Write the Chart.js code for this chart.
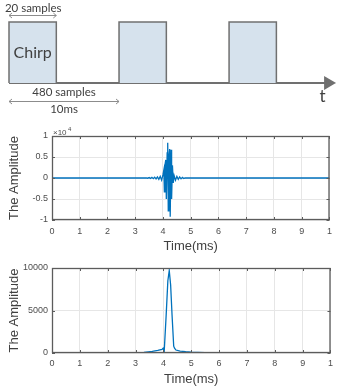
<!DOCTYPE html>
<html>
<head>
<meta charset="utf-8">
<script src="https://cdn.jsdelivr.net/npm/chart.js@4"></script>
<style>
  body { margin: 0; background: #fff; }
  #wrap { position: relative; width: 338px; height: 391px; }
  canvas { position: absolute; left: 0; }
</style>
</head>
<body>
<div id="wrap">
  <canvas id="diagram" width="338" height="120" style="top:0"></canvas>
  <canvas id="signalChart" width="338" height="135" style="top:120px"></canvas>
  <canvas id="outputChart" width="338" height="136" style="top:255px"></canvas>
</div>
<script>
// ---- schematic (diagram units: 1 = 1ms along t, 1 = pulse height) ----
const pulseStarts = [0, 10, 20];
const pulseWidth = 4.3;
const axisEnd = 29;
const diagramLabels = [
  { text: "Chirp", x: 2.15, y: 0.5, size: 16 },
  { text: "20 samples", x: 2.2, y: 1.23, size: 11.5 },
  { text: "480 samples", x: 5, y: -0.16, size: 11.5 },
  { text: "10ms", x: 5, y: -0.43, size: 11.5 },
  { text: "t", x: 28.5, y: -0.22, size: 17 }
];
const spanArrows = [
  { from: 0, to: 4.3, y: 1.11 },
  { from: 0, to: 10, y: -0.3 }
];

// ---- received chirp (amplitude in units of 10^4) ----
const sigTime = [0, 3.3, 3.4, 3.45, 3.5, 3.55, 3.6, 3.65, 3.7, 3.75, 3.8, 3.85, 3.9, 3.95, 4.0,
  4.03, 4.05, 4.07, 4.1, 4.12, 4.15, 4.17, 4.19, 4.21, 4.24, 4.26, 4.29, 4.31, 4.34, 4.37,
  4.4, 4.45, 4.5, 4.55, 4.6, 4.65, 4.7, 4.75, 4.8, 4.9, 10];
const sigAmp = [0, 0, 0.005, -0.005, 0.01, -0.01, 0.015, -0.015, 0.02, -0.02, 0.025, -0.03, 0.04, -0.05, 0.08,
  0.19, -0.33, 0.3, 0.43, -0.5, 0.6, 0.84, -0.78, 0.5, 0.69, -0.92, 0.67, -0.5, 0.3, -0.12,
  0.06, -0.05, 0.04, -0.03, 0.025, -0.02, 0.015, -0.01, 0.005, 0, 0];

// ---- matched filter output ----
const outTime = [0, 2.5, 3.0, 3.3, 3.6, 3.8, 3.95, 3.99, 4.03, 4.1, 4.16, 4.21, 4.26, 4.31, 4.37,
  4.4, 4.45, 4.6, 4.8, 5.0, 5.5, 6, 10];
const outAmp = [0, 10, 40, 80, 180, 300, 420, 560, 250, 4500, 8500, 9700, 8000, 4500, 800,
  560, 350, 220, 150, 100, 40, 10, 0];

const xTickLabels = ["0", "1", "2", "3", "4", "5", "6", "7", "8", "9", "1"];
const yTicksSignal = [-1, -0.5, 0, 0.5, 1];
const yTicksOutput = [0, 5000, 10000];

const lineBlue = "#0072BD";
const tickFont = { family: "Liberation Sans, Arial, sans-serif", size: 9 };
const titleFont = { family: "Liberation Sans, Arial, sans-serif", size: 13 };

// diagram
const diagramText = {
  id: "diagramText",
  afterDatasetsDraw(chart) {
    const { ctx, scales } = chart;
    ctx.save();
    ctx.strokeStyle = "#8c8c8c";
    ctx.lineWidth = 1;
    spanArrows.forEach((a) => {
      const x1 = scales.x.getPixelForValue(a.from);
      const x2 = scales.x.getPixelForValue(a.to);
      const y = Math.round(scales.y.getPixelForValue(a.y)) + 0.5;
      ctx.beginPath();
      ctx.moveTo(x1, y); ctx.lineTo(x2, y);
      ctx.moveTo(x1 + 3, y - 2.5); ctx.lineTo(x1, y); ctx.lineTo(x1 + 3, y + 2.5);
      ctx.moveTo(x2 - 3, y - 2.5); ctx.lineTo(x2, y); ctx.lineTo(x2 - 3, y + 2.5);
      ctx.stroke();
    });
    ctx.fillStyle = "#404040";
    ctx.textAlign = "center";
    ctx.textBaseline = "middle";
    diagramLabels.forEach((l) => {
      ctx.font = l.size + "px Lato, 'Open Sans', sans-serif";
      ctx.fillText(l.text, scales.x.getPixelForValue(l.x), scales.y.getPixelForValue(l.y));
    });
    ctx.restore();
  }
};

const pulseSets = pulseStarts.map((s) => ({
  data: [{ x: s, y: 0 }, { x: s, y: 1 }, { x: s + pulseWidth, y: 1 }, { x: s + pulseWidth, y: 0 }],
  borderColor: "#707070",
  backgroundColor: "#d6e2ed",
  borderWidth: 1.5,
  fill: "origin",
  pointRadius: 0
}));

new Chart(document.getElementById("diagram"), {
  type: "line",
  data: {
    datasets: [
      ...pulseSets,
      {
        data: [{ x: 0, y: 0 }, { x: axisEnd, y: 0 }],
        borderColor: "#707070",
        backgroundColor: "#707070",
        borderWidth: 2,
        pointStyle: "triangle",
        rotation: 90,
        pointRadius: [0, 6],
        fill: false
      }
    ]
  },
  options: {
    responsive: false,
    animation: false,
    layout: { padding: 0, autoPadding: false },
    plugins: { legend: { display: false }, tooltip: { enabled: false } },
    scales: {
      x: { type: "linear", display: false, min: -0.818, max: 29.9 },
      y: { display: false, min: -0.607, max: 1.36 }
    }
  },
  plugins: [diagramText]
});

// MATLAB-like box with inward ticks
const axesBox = {
  id: "axesBox",
  afterDraw(chart, args, opts) {
    const { ctx, chartArea: a, scales } = chart;
    ctx.save();
    ctx.strokeStyle = "#5c5c5c";
    ctx.lineWidth = 1.3;
    ctx.strokeRect(a.left + 0.5, a.top + 0.5, a.right - a.left - 1, a.bottom - a.top - 1);
    ctx.lineWidth = 1;
    ctx.beginPath();
    scales.x.ticks.forEach((t) => {
      const x = Math.round(scales.x.getPixelForValue(t.value)) + 0.5;
      ctx.moveTo(x, a.top); ctx.lineTo(x, a.top + 3);
      ctx.moveTo(x, a.bottom); ctx.lineTo(x, a.bottom - 3);
    });
    scales.y.ticks.forEach((t) => {
      const y = Math.round(scales.y.getPixelForValue(t.value)) + 0.5;
      ctx.moveTo(a.left, y); ctx.lineTo(a.left + 3, y);
      ctx.moveTo(a.right, y); ctx.lineTo(a.right - 3, y);
    });
    ctx.stroke();
    if (opts.exponent) {
      ctx.fillStyle = "#4d4d4d";
      ctx.font = "8px Liberation Sans, Arial, sans-serif";
      ctx.textBaseline = "alphabetic";
      ctx.fillText("\u00d710", a.left + 1, a.top - 1);
      ctx.font = "6px Liberation Sans, Arial, sans-serif";
      ctx.fillText("4", a.left + 16, a.top - 5);
    }
    ctx.restore();
  }
};

function plotOptions(yTicks, xHeight, top, tickPad, titlePad, exponent) {
  return {
    responsive: false,
    animation: false,
    layout: { padding: { top: top, right: 3, left: 0, bottom: 0 } },
    plugins: { legend: { display: false }, tooltip: { enabled: false }, axesBox: { exponent: exponent } },
    scales: {
      x: {
        type: "linear",
        min: 0, max: 10,
        afterFit: (s) => { s.height = xHeight; },
        afterBuildTicks: (s) => { s.ticks = xTickLabels.map((_, i) => ({ value: i })); },
        ticks: {
          padding: tickPad,
          color: "#4d4d4d",
          font: tickFont,
          maxRotation: 0,
          callback: (v, i) => xTickLabels[i]
        },
        grid: { color: "#e6e6e6", drawTicks: false },
        border: { display: false },
        title: { display: true, text: "Time(ms)", color: "#404040", font: titleFont, padding: { top: 0, bottom: titlePad } }
      },
      y: {
        min: yTicks[0], max: yTicks[yTicks.length - 1],
        afterFit: (s) => { s.width = 52; },
        afterBuildTicks: (s) => { s.ticks = yTicks.map((v) => ({ value: v })); },
        ticks: { padding: 4, color: "#4d4d4d", font: tickFont, callback: (v) => String(v) },
        grid: { color: "#e6e6e6", drawTicks: false },
        border: { display: false },
        title: { display: true, text: "The Amplitude", color: "#404040", font: titleFont, padding: { top: 7, bottom: 0 } }
      }
    }
  };
}

new Chart(document.getElementById("signalChart"), {
  type: "line",
  data: {
    datasets: [{
      data: sigTime.map((t, i) => ({ x: t, y: sigAmp[i] })),
      borderColor: lineBlue,
      borderWidth: 1.3,
      pointRadius: 0,
      tension: 0
    }]
  },
  options: plotOptions(yTicksSignal, 35, 16, 6, 1, true),
  plugins: [axesBox]
});

new Chart(document.getElementById("outputChart"), {
  type: "line",
  data: {
    datasets: [{
      data: outTime.map((t, i) => ({ x: t, y: outAmp[i] })),
      borderColor: lineBlue,
      borderWidth: 1.3,
      pointRadius: 0,
      tension: 0
    }]
  },
  options: plotOptions(yTicksOutput, 38, 13, 5, 4, false),
  plugins: [axesBox]
});
</script>
</body>
</html>
